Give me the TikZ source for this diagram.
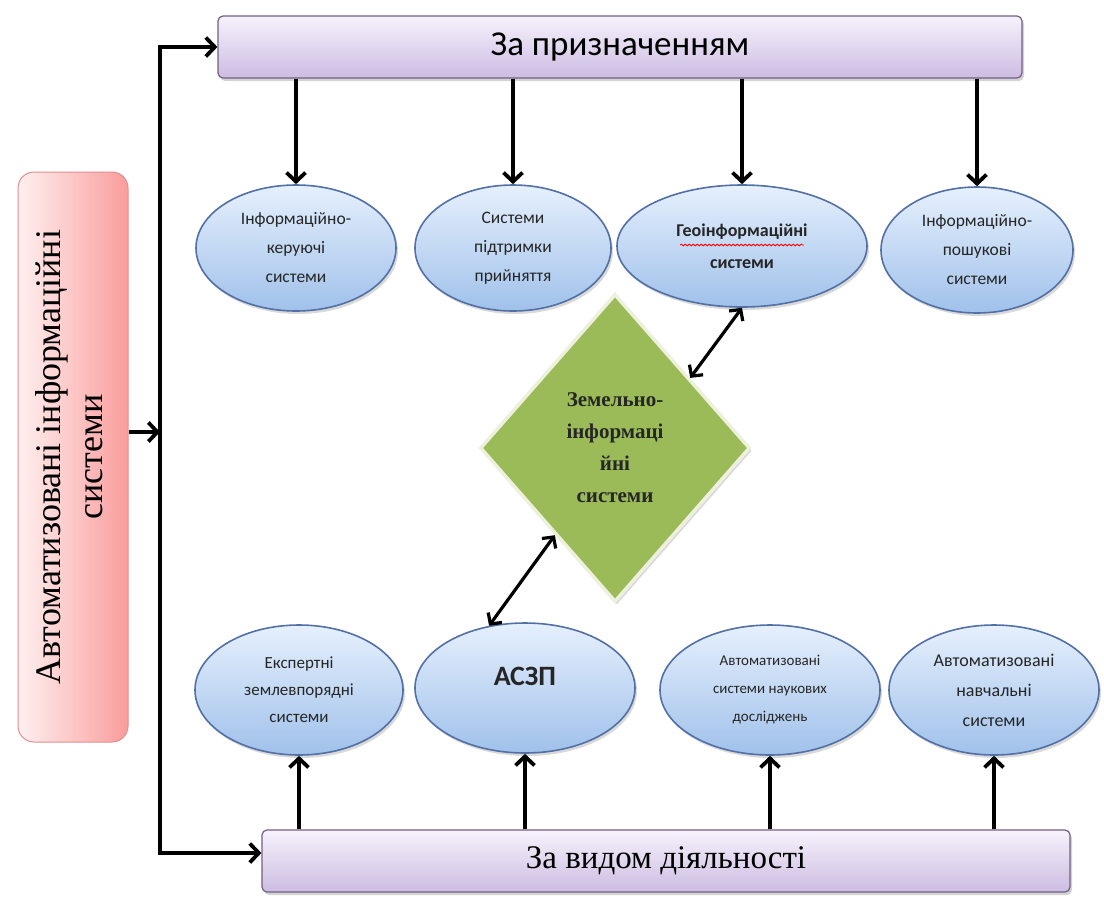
\documentclass[tikz,border=0pt]{standalone}
\usepackage{fontspec}
\setmainfont{Liberation Serif}
\newfontfamily\calibri{Carlito}
\usepackage{graphicx}
\usetikzlibrary{arrows.meta, shapes.geometric, shadows, calc,
                decorations.pathmorphing}
\definecolor{elltop}{RGB}{230,240,253}
\definecolor{ellbot}{RGB}{160,193,234}
\definecolor{ellline}{RGB}{82,112,166}
\definecolor{boxtop}{RGB}{247,242,252}
\definecolor{boxbot}{RGB}{204,188,226}
\definecolor{boxline}{RGB}{112,96,132}
\definecolor{pinkl}{RGB}{255,240,240}
\definecolor{pinkr}{RGB}{250,156,156}
\definecolor{pinkline}{RGB}{226,142,142}
\definecolor{zisgreen}{RGB}{155,187,89}
\definecolor{zisline}{RGB}{236,240,220}
\tikzset{
  classbox/.style={
    rectangle, rounded corners=5pt,
    minimum width=#1, minimum height=62pt, inner sep=0pt,
    draw=boxline, line width=1.2pt, top color=boxtop, bottom color=boxbot,
    drop shadow={shadow xshift=2pt, shadow yshift=-3pt, opacity=.35}
  },
  sysell/.style={
    ellipse, minimum width=#1, minimum height=126pt, inner sep=0pt,
    align=center, text=black!85,
    draw=ellline, line width=1.6pt, top color=elltop, bottom color=ellbot,
    drop shadow={shadow xshift=2pt, shadow yshift=-3pt, opacity=.3}
  },
  aisbox/.style={
    rectangle, rounded corners=16pt,
    minimum width=110pt, minimum height=570pt, inner sep=0pt,
    draw=pinkline, line width=1pt, left color=pinkl, right color=pinkr
  },
  zisdiamond/.style={
    diamond, minimum width=270pt, minimum height=308pt, inner sep=0pt,
    align=center, fill=zisgreen, draw=zisline, line width=3.5pt,
    font=\bfseries\fontsize{21}{32}\selectfont, text=black!85,
    drop shadow={shadow xshift=2pt, shadow yshift=-3pt, opacity=.3}
  },
  ellfont/.style={font=\calibri\fontsize{17.5}{29}\selectfont},
  flowarrow/.style={-{Straight Barb[length=9pt,width=19pt]}, line width=3.8pt},
  linkarrow/.style={{Straight Barb[length=8pt,width=17pt]}-{Straight Barb[length=8pt,width=17pt]},
    line width=3.2pt},
}

\begin{document}
\begin{tikzpicture}[x=1pt, y=-1pt]
\useasboundingbox (0,0) rectangle (1104,906);
      \node[aisbox](ais) at (73,457) {\rotatebox{90}{\fontsize{36}{42}\selectfont
        \begin{tabular}{@{}c@{}}Автоматизовані інформаційні\\системи\end{tabular}}};
      \node[classbox=804pt, font=\calibri\fontsize{35}{40}\selectfont](topbox) at (620,47)
        {За призначенням};
      \node[classbox=808pt, font=\fontsize{33}{36}\selectfont](botbox) at (666,861)
        {За видом діяльності};

      \node[sysell=200pt, ellfont](ell1) at (296,248) {Інформаційно-\\керуючі\\системи};
      \node[sysell=196pt, ellfont](ell2) at (513,248) {Системи\\підтримки\\прийняття};
      \node[sysell=250pt, minimum height=122pt, font=\calibri\bfseries\fontsize{18}{32}\selectfont]
        (geo) at (742,246) {Геоінформаційні\\системи};
      \node[sysell=192pt, ellfont](ell4) at (977,250) {Інформаційно-\\пошукові\\системи};

      \node[sysell=208pt, minimum height=130pt, font=\calibri\fontsize{17}{27}\selectfont]
        (exp) at (299,690) {Експертні\\землевпорядні\\системи};
      \node[sysell=220pt, minimum height=130pt, font=\calibri\bfseries\fontsize{28}{30}\selectfont,
        text depth=24pt](aszp) at (525,688) {АСЗП};
      \node[sysell=220pt, minimum height=130pt, font=\calibri\fontsize{15}{28}\selectfont]
        (nauk) at (770,690) {Автоматизовані\\системи наукових\\досліджень};
      \node[sysell=210pt, minimum height=130pt, font=\calibri\fontsize{18}{30}\selectfont]
        (navch) at (994,690) {Автоматизовані\\навчальні\\системи};

      \node[zisdiamond](zis) at (615,448) {Земельно-\\інформаці\\йні\\системи};

      \draw[red, line width=.8pt, decorate, decoration={snake, amplitude=.9pt, segment length=4pt}]
        ($(geo.center)+(-62,-1)$) -- ($(geo.center)+(62,-1)$);

      \coordinate (trunk) at (160,432);
      \draw[flowarrow](trunk)|-(topbox.west);
      \draw[flowarrow](trunk)|-([yshift=8pt]botbox.west);
      \draw[flowarrow](ais.east |- trunk)--(trunk);

      \foreach \e in {ell1, ell2, geo, ell4}
        \draw[flowarrow](\e.north |- topbox.south)--(\e.north);
      \foreach \e in {exp, aszp, nauk, navch}
        \draw[flowarrow](\e.south |- botbox.north)--(\e.south);

      \draw[linkarrow]($(zis.north)!0.55!(zis.east)$)--(geo.south);
      \draw[linkarrow]($(zis.west)!0.56!(zis.south)$)--(aszp.120);
\end{tikzpicture}
\end{document}
